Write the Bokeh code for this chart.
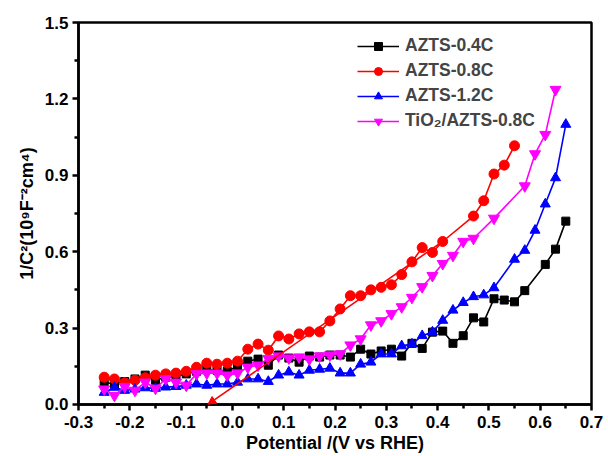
from bokeh.plotting import figure
from bokeh.models import (FixedTicker, NumeralTickFormatter, Legend, LegendItem,
                          Arrow, NormalHead, Range1d)
from bokeh.embed import file_html
from bokeh.resources import INLINE

# ---- data ----
x_04 = [-0.25, -0.23, -0.21, -0.19, -0.17, -0.15, -0.13, -0.11, -0.09, -0.07, -0.05, -0.03,
        -0.01, 0.01, 0.03, 0.05, 0.07, 0.09, 0.11, 0.13, 0.15, 0.17, 0.19, 0.21, 0.23, 0.25,
        0.27, 0.29, 0.31, 0.33, 0.35, 0.37, 0.39, 0.41, 0.43, 0.45, 0.47, 0.49, 0.51, 0.53,
        0.55, 0.57, 0.61, 0.63, 0.65]
y_04 = [0.087, 0.08, 0.09, 0.10, 0.115, 0.095, 0.107, 0.11, 0.12, 0.13, 0.138, 0.134, 0.13,
        0.15, 0.17, 0.178, 0.154, 0.194, 0.182, 0.166, 0.19, 0.186, 0.194, 0.194, 0.186, 0.217,
        0.198, 0.21, 0.217, 0.19, 0.24, 0.22, 0.284, 0.288, 0.24, 0.27, 0.34, 0.324, 0.415,
        0.41, 0.403, 0.447, 0.55, 0.61, 0.72]

x_08 = [-0.25, -0.23, -0.21, -0.19, -0.17, -0.15, -0.13, -0.11, -0.09, -0.07, -0.05, -0.03,
        -0.01, 0.01, 0.03, 0.05, 0.07, 0.09, 0.11, 0.13, 0.15, 0.17, 0.19, 0.21, 0.23, 0.25,
        0.27, 0.29, 0.31, 0.33, 0.35, 0.37, 0.39, 0.41, 0.47, 0.49, 0.51, 0.53, 0.55]
y_08 = [0.107, 0.10, 0.085, 0.095, 0.105, 0.115, 0.12, 0.123, 0.13, 0.146, 0.162, 0.158,
        0.162, 0.17, 0.217, 0.237, 0.213, 0.269, 0.257, 0.277, 0.285, 0.285, 0.328, 0.375,
        0.427, 0.427, 0.45, 0.46, 0.47, 0.51, 0.56, 0.616, 0.597, 0.64, 0.74, 0.80, 0.905,
        0.94, 1.016]

x_12 = [-0.25, -0.23, -0.21, -0.19, -0.17, -0.15, -0.13, -0.11, -0.09, -0.07, -0.05, -0.03,
        -0.01, 0.01, 0.03, 0.05, 0.07, 0.09, 0.11, 0.13, 0.15, 0.17, 0.19, 0.21, 0.23, 0.25,
        0.27, 0.29, 0.31, 0.33, 0.35, 0.37, 0.39, 0.41, 0.43, 0.45, 0.47, 0.49, 0.51, 0.55,
        0.57, 0.59, 0.61, 0.63, 0.65]
y_12 = [0.047, 0.067, 0.055, 0.06, 0.065, 0.063, 0.068, 0.07, 0.075, 0.08, 0.075, 0.08, 0.08,
        0.087, 0.10, 0.10, 0.09, 0.115, 0.127, 0.115, 0.134, 0.138, 0.142, 0.123, 0.123, 0.158,
        0.166, 0.198, 0.198, 0.23, 0.237, 0.27, 0.284, 0.33, 0.37, 0.40, 0.423, 0.43, 0.458,
        0.57, 0.605, 0.684, 0.787, 0.89, 1.10]

x_tio = [-0.25, -0.23, -0.21, -0.19, -0.17, -0.15, -0.13, -0.11, -0.09, -0.07, -0.05, -0.03,
         -0.01, 0.01, 0.03, 0.05, 0.07, 0.09, 0.11, 0.13, 0.15, 0.17, 0.19, 0.21, 0.23, 0.25,
         0.27, 0.29, 0.31, 0.33, 0.35, 0.37, 0.39, 0.41, 0.43, 0.45, 0.47, 0.51, 0.57, 0.59,
         0.61, 0.63]
y_tio = [0.06, 0.035, 0.07, 0.055, 0.087, 0.063, 0.10, 0.087, 0.075, 0.12, 0.123, 0.123,
         0.115, 0.123, 0.146, 0.154, 0.18, 0.19, 0.182, 0.186, 0.178, 0.19, 0.194, 0.198,
         0.233, 0.257, 0.312, 0.328, 0.356, 0.383, 0.42, 0.462, 0.506, 0.553, 0.585, 0.64,
         0.652, 0.731, 0.858, 0.984, 1.06, 1.237]

# linear fit of AZTS-0.8C (start -> end, arrow at the x-intercept)
fit_x = [0.41, -0.048]
fit_y = [0.64, 0.0]

x_ticks = [-0.3, -0.2, -0.1, 0.0, 0.1, 0.2, 0.3, 0.4, 0.5, 0.6, 0.7]
x_minor = [-0.25, -0.15, -0.05, 0.05, 0.15, 0.25, 0.35, 0.45, 0.55, 0.65]
y_ticks = [0.0, 0.3, 0.6, 0.9, 1.2, 1.5]
y_minor = [0.15, 0.45, 0.75, 1.05, 1.35]

labels = ["AZTS-0.4C", "AZTS-0.8C", "AZTS-1.2C", "TiO\u2082/AZTS-0.8C"]
colors = ["black", "#FF0000", "#0000FF", "#FF00FF"]
markers = ["square", "circle", "triangle", "inverted_triangle"]
sizes = [8, 10, 10, 11]

FONT = "Liberation Sans"

p = figure(width=608, height=456, output_backend="svg", toolbar_location=None,
           x_range=Range1d(-0.3001, 0.7001), y_range=Range1d(-0.0003, 1.5003),
           min_border_left=78, min_border_right=17, min_border_top=22, min_border_bottom=52)
p.xgrid.visible = False
p.ygrid.visible = False
p.outline_line_color = "black"
p.outline_line_width = 2.5
p.background_fill_color = "white"
p.border_fill_color = "white"

items = []
for xs, ys, lab, c, m, s in zip([x_04, x_08, x_12, x_tio], [y_04, y_08, y_12, y_tio],
                                labels, colors, markers, sizes):
    lr = p.line(xs, ys, line_color=c, line_width=1.6)
    sr = p.scatter(xs, ys, marker=m, size=s, fill_color=c, line_color=c)
    items.append(LegendItem(label=lab, renderers=[lr, sr]))

p.add_layout(Arrow(end=NormalHead(size=8, fill_color="#FF0000", line_color="#FF0000"),
                   x_start=fit_x[0], y_start=fit_y[0], x_end=fit_x[1], y_end=fit_y[1],
                   line_color="#FF0000", line_width=1.6))

legend = Legend(items=items, location=(279, 273))
legend.border_line_color = None
legend.background_fill_alpha = 0
legend.label_text_font = FONT
legend.label_text_font_style = "bold"
legend.label_text_font_size = "17.5px"
legend.glyph_width = 42
legend.glyph_height = 20
legend.label_height = 20
legend.label_standoff = 6
legend.spacing = 4
legend.padding = 4
legend.margin = 0
p.add_layout(legend)

for ax in (p.xaxis[0], p.yaxis[0]):
    ax.axis_line_width = 2.5
    ax.major_tick_line_width = 2.5
    ax.minor_tick_line_width = 2.5
    ax.major_tick_in = 0
    ax.major_tick_out = 6
    ax.minor_tick_in = 0
    ax.minor_tick_out = 4
    ax.major_label_text_font = FONT
    ax.major_label_text_font_style = "bold"
    ax.major_label_text_font_size = "17px"
    ax.major_label_text_color = "black"
    ax.axis_label_text_font = FONT
    ax.axis_label_text_font_style = "bold"
    ax.axis_label_text_font_size = "18px"
    ax.axis_label_text_color = "black"
    ax.formatter = NumeralTickFormatter(format="0.0")

p.xaxis.ticker = FixedTicker(ticks=x_ticks, minor_ticks=x_minor)
p.yaxis.ticker = FixedTicker(ticks=y_ticks, minor_ticks=y_minor)
p.xaxis.axis_label = "Potential /(V vs RHE)"
p.yaxis.axis_label = "1/C\u00b2(10\u2079F\u207b\u00b2cm\u2074)"
p.xaxis.major_label_standoff = 5
p.xaxis.axis_label_standoff = 2
p.yaxis.major_label_standoff = 4
p.yaxis.axis_label_standoff = 5

open("out.html", "w").write(file_html(p, INLINE))
